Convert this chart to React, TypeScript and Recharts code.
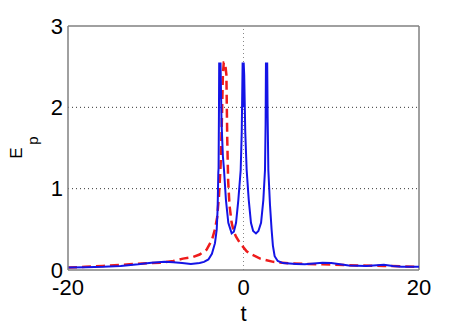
import React from "react";
import { LineChart, Line, XAxis, YAxis, ReferenceLine } from "recharts";

const blueT = [-20, -18, -16, -14, -12, -10.5, -9, -8, -7, -6, -5, -4.5, -4, -3.6, -3.25, -3.05, -2.95, -2.87, -2.84, -2.8, -2.77, -2.7, -2.62, -2.5, -2.35, -2.22, -2.0, -1.73, -1.35, -1.1, -0.85, -0.59, -0.32, -0.2, -0.1, -0.04, 0.02, 0.08, 0.2, 0.36, 0.6, 0.85, 1.1, 1.42, 1.7, 2.0, 2.26, 2.45, 2.52, 2.56, 2.63, 2.7, 2.75, 2.83, 3.02, 3.2, 3.35, 3.55, 3.9, 4.5, 6, 7, 8, 9, 10, 11, 12, 14, 16, 17, 18, 20];
const blueE = [0.03, 0.035, 0.04, 0.05, 0.07, 0.09, 0.1, 0.095, 0.085, 0.075, 0.085, 0.1, 0.13, 0.2, 0.33, 0.5, 0.75, 1.2, 1.25, 1.9, 2.55, 2.1, 2.55, 1.8, 1.4, 1.23, 0.86, 0.58, 0.45, 0.47, 0.58, 0.86, 1.23, 1.7, 2.55, 2.0, 2.55, 2.4, 1.7, 1.23, 0.86, 0.58, 0.48, 0.45, 0.48, 0.58, 0.86, 1.23, 1.8, 2.55, 2.1, 2.55, 1.9, 1.23, 0.8, 0.5, 0.3, 0.17, 0.11, 0.085, 0.075, 0.07, 0.08, 0.09, 0.085, 0.07, 0.055, 0.05, 0.065, 0.05, 0.04, 0.04];

const redT = [-20, -18, -16, -13, -10.7, -9.5, -8, -6.9, -5.75, -5, -4.2, -3.6, -3.25, -3.0, -2.8, -2.6, -2.45, -2.35, -2.25, -2.1, -1.95, -1.85, -1.75, -1.6, -1.35, -1.1, -0.85, -0.4, 0.36, 0.74, 1.9, 3.4, 5.3, 9, 13, 16, 20];
const redE = [0.03, 0.04, 0.05, 0.07, 0.085, 0.09, 0.11, 0.14, 0.16, 0.19, 0.25, 0.37, 0.5, 0.65, 0.9, 1.3, 1.9, 2.4, 2.55, 2.55, 2.4, 1.6, 1.1, 0.8, 0.58, 0.47, 0.41, 0.33, 0.23, 0.2, 0.14, 0.1, 0.08, 0.07, 0.055, 0.05, 0.04];

const xTicks = [-20, 0, 20];
const yTicks = [0, 1, 2, 3];

const blueData = blueT.map((t, i) => ({ t, e: blueE[i] }));
const redData = redT.map((t, i) => ({ t, e: redE[i] }));

const FONT = "'Liberation Sans', Arial, Helvetica, sans-serif";
const tickStyle = { fontSize: 22, fill: "#000", fontFamily: FONT };

export default function App() {
  return (
    <LineChart width={455} height={319} margin={{ top: 18, right: 44, bottom: 0, left: 0 }}>
      <XAxis
        type="number"
        dataKey="t"
        domain={[-20, 20]}
        ticks={xTicks}
        allowDataOverflow
        height={57}
        tickLine={false}
        tickSize={0}
        tickMargin={9}
        axisLine={{ stroke: "#808080", strokeWidth: 1.5 }}
        tick={tickStyle}
        label={{
          content: (props: any) => {
            const vb = props.viewBox || {};
            return (
              <text x={vb.x + vb.width / 2} y={313} textAnchor="middle" fontSize={22} fontFamily={FONT} fill="#000">
                t
              </text>
            );
          },
        }}
      />
      <YAxis
        type="number"
        domain={[0, 3]}
        ticks={yTicks}
        allowDataOverflow
        width={60}
        tickLine={false}
        tickSize={0}
        tickMargin={5}
        axisLine={{ stroke: "#808080", strokeWidth: 1.5 }}
        tick={tickStyle}
        label={{
          content: () => (
            <g fontFamily={FONT} fill="#000">
              <text x={13.5} y={145} transform="rotate(-90 13.5 145)" textAnchor="middle" fontSize={17}>
                E
              </text>
              <text x={29.5} y={132.5} transform="rotate(-90 29.5 132.5)" textAnchor="middle" fontSize={15}>
                p
              </text>
            </g>
          ),
        }}
      />
      <ReferenceLine y={1} stroke="#333" strokeDasharray="1 3" />
      <ReferenceLine y={2} stroke="#333" strokeDasharray="1 3" />
      <ReferenceLine x={0} stroke="#888" strokeDasharray="1 3" />
      <ReferenceLine y={3} stroke="#808080" strokeWidth={1.5} />
      <ReferenceLine x={20} stroke="#808080" strokeWidth={1.5} />
      <Line
        data={redData}
        dataKey="e"
        type="linear"
        stroke="#ee1c1c"
        strokeWidth={2.5}
        strokeDasharray="9 5"
        dot={false}
        isAnimationActive={false}
      />
      <Line
        data={blueData}
        dataKey="e"
        type="linear"
        stroke="#1414e6"
        strokeWidth={2}
        dot={false}
        isAnimationActive={false}
      />
    </LineChart>
  );
}
